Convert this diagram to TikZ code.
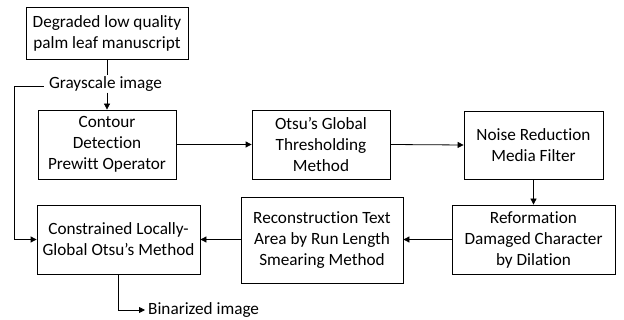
\documentclass[tikz,border=0pt]{standalone}
\usepackage{fontspec}
\setmainfont{Carlito}[Ligatures=NoCommon]
\usetikzlibrary{arrows.meta}
\begin{document}
\begin{tikzpicture}[x=1pt,y=-1pt,
  every node/.style={font=\fontsize{17.2}{21}\selectfont},
  box/.style={draw,line width=0.8pt,align=center,inner sep=0pt},
  conn/.style={line width=0.8pt,-{Triangle[length=6pt,width=6pt]}},
  plain/.style={line width=0.8pt}]
\useasboundingbox (0,0) rectangle (624,320);
\node[box,minimum width=162pt,minimum height=52pt] (top) at (107,33) {Degraded low quality\\palm leaf manuscript};
\node[inner xsep=5pt,inner ysep=1pt] (gray) at (105.5,84) {Grayscale image};
\node[box,minimum width=138pt,minimum height=69pt] (contour) at (107,144.5) {Contour\\Detection\\Prewitt Operator};
\node[box,minimum width=138pt,minimum height=69pt] (otsu) at (321,144.5) {Otsu’s Global\\Thresholding\\Method};
\node[box,minimum width=139pt,minimum height=68pt] (noise) at (533.5,145) {Noise Reduction\\Media Filter};
\node[box,minimum width=163pt,minimum height=69pt] (reform) at (533.5,239.5) {Reformation\\Damaged Character\\by Dilation};
\node[box,minimum width=162pt,minimum height=86pt] (recon) at (322,240) {Reconstruction Text\\Area by Run Length\\Smearing Method};
\node[box,minimum width=163pt,minimum height=69pt] (constr) at (118.5,239.5) {Constrained Locally-\\Global Otsu’s Method};
\node[anchor=west,inner sep=3pt] (bin) at (145,310) {Binarized image};
\coordinate (fb) at (14,86);
\draw[plain] (top.south) -- (top.south |- gray.north);
\draw[conn] (gray.south -| contour.north) -- (contour.north);
\draw[conn] (contour.east) -- (otsu.west);
\draw[conn] (otsu.east) -- (noise.west);
\draw[conn] (noise.south) -- (noise.south |- reform.north);
\draw[conn] (reform.west) -- (reform.west -| recon.east);
\draw[conn] (recon.west |- constr.west) -- (constr.east);
\draw[conn] (gray.west |- fb) -- (fb) |- (constr.west);
\draw[conn] (constr.south) |- (bin.west);
\end{tikzpicture}
\end{document}
